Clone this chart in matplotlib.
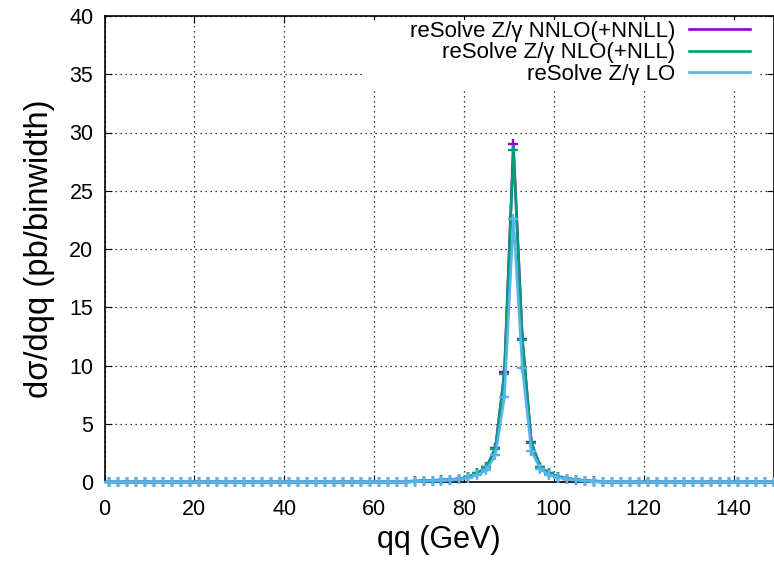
import numpy as np
import matplotlib
matplotlib.use("Agg")
import matplotlib.pyplot as plt
from matplotlib.lines import Line2D
from matplotlib.patches import Rectangle

plt.rcParams['font.family'] = ['Liberation Sans', 'DejaVu Sans']

# bin centres, 2 GeV bins
qq = np.arange(1, 150, 2)

# d sigma / d qq (pb/binwidth)
nnlo = [0, 0, 0, 0, 0, 0, 0, 0, 0, 0,
        0, 0, 0, 0, 0, 0, 0, 0, 0, 0,
        0, 0, 0, 0, 0, 0, 0, 0, 0, 0,
        0, 0, 0, 0, 0.05, 0.1, 0.12, 0.15, 0.2, 0.27,
        0.45, 0.75, 1.3, 2.9, 9.4, 29.0, 12.3, 3.4, 1.3, 0.75,
        0.45, 0.3, 0.2, 0.12, 0.05, 0, 0, 0, 0, 0,
        0, 0, 0, 0, 0, 0, 0, 0, 0, 0,
        0, 0, 0, 0, 0]
nlo = [0, 0, 0, 0, 0, 0, 0, 0, 0, 0,
       0, 0, 0, 0, 0, 0, 0, 0, 0, 0,
       0, 0, 0, 0, 0, 0, 0, 0, 0, 0,
       0, 0, 0, 0, 0.05, 0.1, 0.12, 0.15, 0.2, 0.26,
       0.44, 0.74, 1.28, 2.85, 9.3, 28.5, 12.2, 3.35, 1.28, 0.74,
       0.44, 0.3, 0.2, 0.12, 0.05, 0, 0, 0, 0, 0,
       0, 0, 0, 0, 0, 0, 0, 0, 0, 0,
       0, 0, 0, 0, 0]
lo = [0, 0, 0, 0, 0, 0, 0, 0, 0, 0,
      0, 0, 0, 0, 0, 0, 0, 0, 0, 0,
      0, 0, 0, 0, 0, 0, 0, 0, 0, 0,
      0, 0, 0, 0, 0.04, 0.08, 0.1, 0.12, 0.17, 0.22,
      0.38, 0.6, 1.0, 2.3, 7.3, 22.6, 9.8, 2.7, 1.1, 0.6,
      0.38, 0.25, 0.16, 0.1, 0.04, 0, 0, 0, 0, 0,
      0, 0, 0, 0, 0, 0, 0, 0, 0, 0,
      0, 0, 0, 0, 0]

labels = ['reSolve Z/\u03b3 NNLO(+NNLL)', 'reSolve Z/\u03b3 NLO(+NLL)', 'reSolve Z/\u03b3 LO']
colors = ['#9400d3', '#009e73', '#56b4e9']

W, H = 774, 561
fig = plt.figure(figsize=(W / 100, H / 100), dpi=100)
ax = fig.add_axes([104.5 / W, 1 - 482 / H, 1 - 104.5 / W, (482 - 16) / H])

for y, c in zip([nnlo, nlo, lo], colors):
    ax.plot(qq, y, color=c, lw=1.9, marker='+', ms=7, mew=1.7, clip_on=False, zorder=3)

ax.set_xlim(0, 149)
ax.set_ylim(0, 40)
ax.set_xticks(range(0, 141, 20))
ax.set_yticks(range(0, 41, 5))
ax.tick_params(direction='in', top=True, right=True, labelsize=15.5, length=5)
ax.tick_params(axis='x', pad=12.5)
ax.tick_params(axis='y', pad=8)
ax.grid(True, color='black', linestyle=(0, (1, 3)), linewidth=0.9)
for s in ax.spines.values():
    s.set_linewidth(1.2)

ax.set_xlabel('qq (GeV)', fontsize=22, labelpad=3)
ax.set_ylabel('d\u03c3/dqq (pb/binwidth)', fontsize=23.5, labelpad=10)

# white key background hides the grid behind the key
ax.add_patch(Rectangle((365 / W, 1 - 88 / H), (760 - 365) / W, (88 - 20) / H,
                       transform=fig.transFigure, facecolor='white', edgecolor='none', zorder=1.8))

handles = [Line2D([], [], color=c, lw=1.9) for c in colors]
leg = ax.legend(handles, labels, loc='upper right', bbox_to_anchor=(750 / W, 1 - 21 / H),
                bbox_transform=fig.transFigure, markerfirst=False, fontsize=16,
                handlelength=2.75, handletextpad=0.6, labelspacing=0.02,
                borderpad=0, borderaxespad=0, frameon=False)
for t in leg.get_texts():
    t.set_ha('right')
leg._legend_box.align = 'right'

fig.savefig('out.png', dpi=100)
